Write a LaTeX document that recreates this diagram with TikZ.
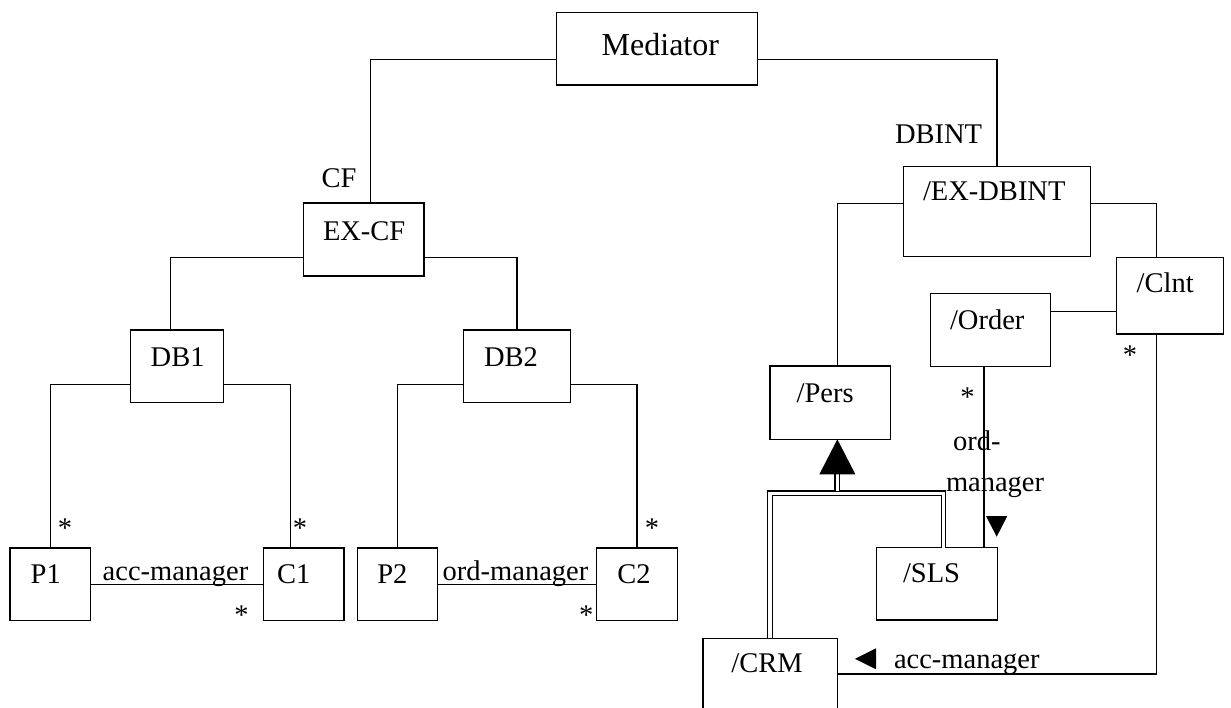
\documentclass[tikz,border=0pt]{standalone}
\usepackage{fontspec}
\setmainfont{Liberation Serif}
\begin{document}
\begin{tikzpicture}[x=1pt,y=-1pt,
  box/.style={draw, line width=1.4pt, inner sep=0pt, outer sep=0pt},
  conn/.style={line width=1.4pt},
  gen/.style={line width=1.2pt, double, double distance=3.4pt},
  lbl/.style={inner sep=0pt, outer sep=0pt, font=\fontsize{28.5}{34}\selectfont},
  big/.style={inner sep=0pt, outer sep=0pt, font=\fontsize{32}{38}\selectfont},
]
\useasboundingbox (0,0) rectangle (1231,707);
\clip (0,0) rectangle (1231,707);
\newcommand\mkbox[5]{\node[box, minimum width={#4-#2}, minimum height={#5-#3}] (#1) at ({(#2+#4)/2},{(#3+#5)/2}) {};}

% boxes
\mkbox{med}{556.7}{12.7}{757.5}{85}
\mkbox{excf}{303.3}{203}{424}{276}
\mkbox{exdb}{903.3}{166.7}{1090.7}{256.7}
\mkbox{db1}{130.3}{330}{223.7}{402.7}
\mkbox{db2}{463.3}{330}{570.7}{402.7}
\mkbox{p1}{10}{548}{90.7}{620.7}
\mkbox{c1}{263.3}{548}{344}{620.7}
\mkbox{p2}{357.3}{548}{437.3}{620.7}
\mkbox{c2}{596.7}{548}{677.3}{620.7}
\mkbox{pers}{770}{366}{890.7}{439.3}
\mkbox{order}{930.5}{293.3}{1050.7}{366.3}
\mkbox{clnt}{1116.7}{257.3}{1223.3}{334}
\mkbox{sls}{876.7}{547.7}{997.3}{620}
\mkbox{crm}{703}{638.3}{837.3}{760}

% box texts
\node[big, anchor=base west] (tmed) at (601.7,55) {Mediator};
\node[lbl, anchor=base west] (texcf) at (323,240) {EX-CF};
\node[lbl, anchor=base west] (texdb) at (923,200) {/EX-DBINT};
\node[lbl, anchor=base west] (tdb1) at (150.7,366.7) {DB1};
\node[lbl, anchor=base west] (tdb2) at (484,366.7) {DB2};
\node[lbl, anchor=base west] (tp1) at (30.7,583.3) {P1};
\node[lbl, anchor=base west] (tc1) at (277,583.3) {C1};
\node[lbl, anchor=base west] (tp2) at (377.3,583.3) {P2};
\node[lbl, anchor=base west] (tc2) at (617.3,583.3) {C2};
\node[lbl, anchor=base west] (tpers) at (796.7,402) {/Pers};
\node[lbl, anchor=base west] (torder) at (950,329) {/Order};
\node[lbl, anchor=base west] (tclnt) at (1136.7,292) {/Clnt};
\node[lbl, anchor=base west] (tsls) at (903,582) {/SLS};
\node[lbl, anchor=base east] (tcrm) at (802.7,672) {/CRM};

% role labels
\node[lbl, anchor=base west] (lcf) at (321.7,187) {CF};
\node[lbl, anchor=base west] (ldbint) at (895,143.3) {DBINT};
\node[lbl, anchor=base west] (lacc1) at (102.7,580) {acc-manager};
\node[lbl, anchor=base west] (lord1) at (442.7,580) {ord-manager};
\node[lbl, anchor=base west] (lord2a) at (953,450) {ord-};
\node[lbl, anchor=base west] (lord2b) at (946,491) {manager};
\node[lbl, anchor=base west] (lacc2) at (894,668) {acc-manager};

% multiplicities
\node[lbl, anchor=base] (s1) at (65,537.5) {*};
\node[lbl, anchor=base] (s2) at (300,537.5) {*};
\node[lbl, anchor=base] (s3) at (241.5,624.7) {*};
\node[lbl, anchor=base] (s4) at (652,537.5) {*};
\node[lbl, anchor=base] (s5) at (586.2,624.5) {*};
\node[lbl, anchor=base] (s6) at (1130,364) {*};
\node[lbl, anchor=base] (s7) at (967.5,406.7) {*};

% connectors
\draw[conn] ([yshift=-10.45]med.west) -| ([xshift=6.65]excf.north);
\draw[conn] ([yshift=-10.45]med.east) -| (exdb.north);
\draw[conn] ([yshift=-18.2]excf.west) -| ([xshift=-6.5]db1.north);
\draw[conn] ([yshift=-18.2]excf.east) -| (db2.north);
\draw[conn] ([yshift=-18]db1.west) -| (p1.north);
\draw[conn] ([yshift=-18]db1.east) -| ([xshift=-13]c1.north);
\draw[conn] ([yshift=-18]db2.west) -| (p2.north);
\draw[conn] ([yshift=-18]db2.east) -| (c2.north);
\draw[conn] (p1.east) -- (c1.west);
\draw[conn] (p2.east) -- (c2.west);
\draw[conn] ([yshift=8.4]exdb.west) -| ([xshift=7]pers.north);
\draw[conn] ([yshift=8.4]exdb.east) -| ([xshift=-13.3]clnt.north);
\draw[conn] ([yshift=-16.05]clnt.west) -- ([yshift=-16.05]clnt.west -| order.east);
\draw[conn] ([xshift=-6.6]order.south) -- ([xshift=-6.6]order.south |- sls.north);
\draw[conn] ([xshift=-13.3]clnt.south) |- ([yshift=25.15]crm.east);

% navigability triangles
\fill (996.7,536.7) -- (986,516) -- (1007.3,516) -- cycle;
\fill (855,658.8) -- (876,648.3) -- (876,669.3) -- cycle;

% generalization
\coordinate (gj) at ([xshift=7]pers.south |- 0,493.2);
\draw[gen] (crm.north) |- (gj) -| ([xshift=6.5]sls.north);
\draw[gen] ([xshift=7,yshift=-35]pers.south) -- ([xshift=7,yshift=-51.4]pers.south);
\fill ([xshift=7]pers.south) -- ++(-18,35) -- ++(36,0) -- cycle;
\end{tikzpicture}
\end{document}
